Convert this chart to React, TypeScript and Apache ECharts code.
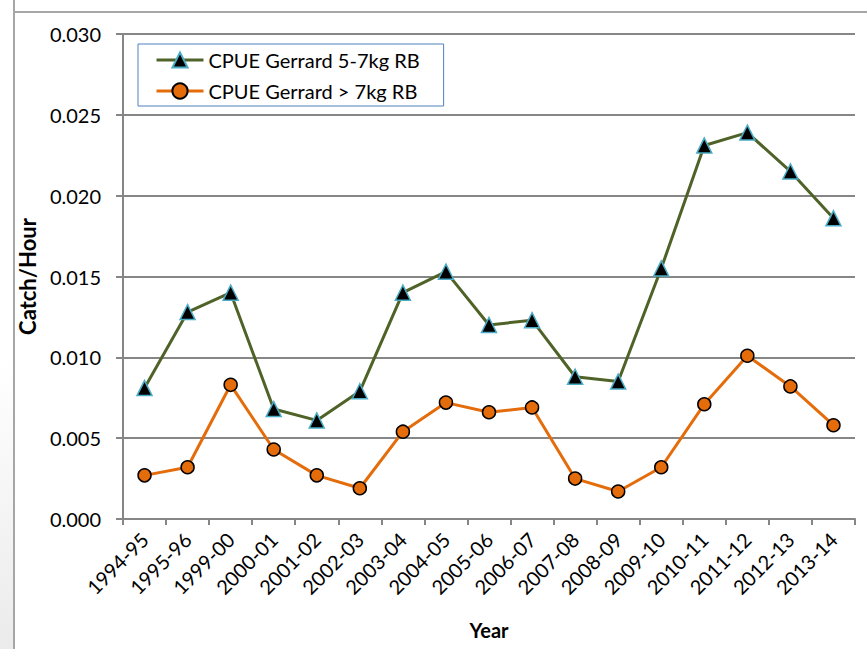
import React, { useEffect, useRef } from "react";
import * as echarts from "echarts";

const categories = [
  "1994-95", "1995-96", "1999-00", "2000-01", "2001-02", "2002-03", "2003-04",
  "2004-05", "2005-06", "2006-07", "2007-08", "2008-09", "2009-10", "2010-11",
  "2011-12", "2012-13", "2013-14",
];
const cpue57 = [
  0.0081, 0.0128, 0.014, 0.0068, 0.0061, 0.0079, 0.014, 0.0153, 0.012, 0.0123,
  0.0088, 0.0085, 0.0155, 0.0231, 0.0239, 0.0215, 0.0186,
];
const cpue7 = [
  0.0027, 0.0032, 0.0083, 0.0043, 0.0027, 0.0019, 0.0054, 0.0072, 0.0066, 0.0069,
  0.0025, 0.0017, 0.0032, 0.0071, 0.0101, 0.0082, 0.0058,
];
const seriesNames = ["CPUE Gerrard 5-7kg RB", "CPUE Gerrard > 7kg RB"];

const FONT = "Lato, 'Open Sans', sans-serif";

export default function App() {
  const ref = useRef<HTMLDivElement>(null);
  useEffect(() => {
    const chart = echarts.init(ref.current!, null, { renderer: "svg" });
    chart.setOption({
      animation: false,
      backgroundColor: "#ffffff",
      textStyle: { fontFamily: FONT },
      graphic: [
        {
          type: "rect",
          shape: { x: 0, y: 360, width: 13, height: 289 },
          style: {
            fill: new echarts.graphic.LinearGradient(0, 0, 0, 1, [
              { offset: 0, color: "#ffffff" },
              { offset: 1, color: "#ebebeb" },
            ]),
          },
          silent: true,
        },
        { type: "line", shape: { x1: 14, y1: 0, x2: 14, y2: 649 }, style: { stroke: "#a6a6a6", lineWidth: 2 } },
        { type: "line", shape: { x1: 14, y1: 12, x2: 867, y2: 12 }, style: { stroke: "#a6a6a6", lineWidth: 2 } },
      ],
      grid: { left: 123, right: 12, top: 34, bottom: 130 },
      legend: {
        left: 138,
        top: 44,
        orient: "vertical",
        borderColor: "#4F81BD",
        borderWidth: 1,
        padding: [6, 24, 5, 17],
        itemGap: 11,
        itemWidth: 47,
        itemHeight: 19,
        lineStyle: { width: 3 },
        textStyle: { fontSize: 20, color: "#000", fontFamily: FONT },
        data: seriesNames,
      },
      xAxis: {
        type: "category",
        data: categories,
        boundaryGap: true,
        name: "Year",
        nameLocation: "middle",
        nameGap: 101,
        nameTextStyle: { fontSize: 20, fontWeight: "bold", color: "#000", fontFamily: FONT },
        axisLine: { lineStyle: { color: "#868686", width: 2 } },
        axisTick: { show: true, length: 6, lineStyle: { color: "#868686", width: 2 } },
        axisLabel: { rotate: 45, fontSize: 20, color: "#000", margin: 17, interval: 0, fontFamily: FONT },
      },
      yAxis: {
        type: "value",
        min: 0,
        max: 0.03,
        interval: 0.005,
        name: "Catch/Hour",
        nameLocation: "middle",
        nameGap: 77,
        nameTextStyle: { fontSize: 22, fontWeight: "bold", color: "#000", fontFamily: FONT },
        axisLine: { show: true, lineStyle: { color: "#868686", width: 2 } },
        axisTick: { show: true, length: 7, lineStyle: { color: "#868686", width: 2 } },
        axisLabel: {
          fontSize: 20,
          color: "#000",
          margin: 22,
          fontFamily: FONT,
          formatter: (v: number) => v.toFixed(3),
        },
        splitLine: { show: true, lineStyle: { color: "#868686", width: 2 } },
      },
      series: [
        {
          name: seriesNames[0],
          type: "line",
          data: cpue57,
          symbol: "triangle",
          symbolSize: 15,
          lineStyle: { color: "#4F6228", width: 3 },
          itemStyle: { color: "#000000", borderColor: "#4BACC6", borderWidth: 1.5 },
        },
        {
          name: seriesNames[1],
          type: "line",
          data: cpue7,
          symbol: "circle",
          symbolSize: 13,
          lineStyle: { color: "#E46C0A", width: 3 },
          itemStyle: { color: "#E46C0A", borderColor: "#000000", borderWidth: 1.5 },
        },
      ],
    });
    return () => chart.dispose();
  }, []);
  return (
    <div
      ref={ref}
      style={{ position: "fixed", left: 0, top: 0, width: 867, height: 649 }}
    />
  );
}
